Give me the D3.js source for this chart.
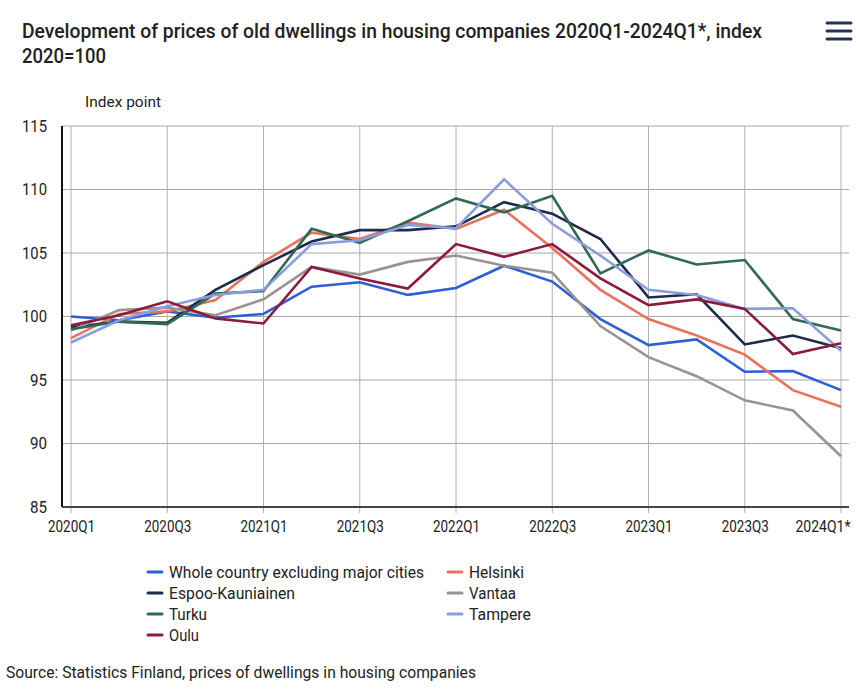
<!DOCTYPE html>
<html><head><meta charset="utf-8">
<script src="https://cdn.jsdelivr.net/npm/d3@7"></script>
<style>
body{margin:0;background:#fff;}
text{font-family:"Roboto","Noto Sans",sans-serif;fill:#222;}
</style></head>
<body><svg id="c" width="856" height="691"></svg>
<script>
const quarters = ["2020Q1","2020Q2","2020Q3","2020Q4","2021Q1","2021Q2","2021Q3","2021Q4","2022Q1","2022Q2","2022Q3","2022Q4","2023Q1","2023Q2","2023Q3","2023Q4","2024Q1*"];
const tickLabels = ["2020Q1","2020Q3","2021Q1","2021Q3","2022Q1","2022Q3","2023Q1","2023Q3","2024Q1*"];
const yTicks = [85,90,95,100,105,110,115];
const seriesNames = ["Whole country excluding major cities","Helsinki","Espoo-Kauniainen","Vantaa","Turku","Tampere","Oulu"];
const seriesColors = ["#2d5fd5","#e8735a","#1e2b4c","#9c9290","#2f6a56","#8a9edf","#8b1b3d"];
const wholeCountry = [100.0,99.7,100.4,99.9,100.2,102.35,102.7,101.7,102.25,104.0,102.75,99.8,97.75,98.2,95.65,95.7,94.2];
const helsinki     = [98.3,100.2,100.4,101.3,104.3,106.6,106.1,107.4,106.9,108.4,105.4,102.1,99.8,98.5,97.0,94.2,92.9];
const espoo        = [99.15,99.6,99.5,102.1,104.05,105.9,106.8,106.8,107.1,109.0,108.1,106.1,101.5,101.75,97.8,98.5,97.5];
const vantaa       = [98.9,100.5,100.7,100.1,101.35,103.9,103.3,104.3,104.8,104.0,103.45,99.25,96.8,95.3,93.4,92.6,89.0];
const turku        = [99.0,99.6,99.4,101.8,102.0,106.9,105.8,107.5,109.3,108.2,109.5,103.4,105.2,104.1,104.45,99.8,98.9];
const tampere      = [97.95,99.7,100.8,101.7,102.1,105.7,106.0,107.2,106.95,110.8,107.3,104.8,102.1,101.7,100.6,100.65,97.3];
const oulu         = [99.3,100.1,101.2,99.85,99.45,103.9,103.0,102.2,105.7,104.7,105.7,103.0,100.9,101.35,100.6,97.05,97.9];
const seriesValues = [wholeCountry,helsinki,espoo,vantaa,turku,tampere,oulu];
const legendWidths = [255,55,126,47,38,62,30];

const svg = d3.select("#c");
const x = d3.scalePoint().domain(quarters).range([71,841]);
const y = d3.scaleLinear().domain([85,115]).range([507,126]);
const left = 62, right = 849;

function txt(xp, yp, s, size, w, anchor){
  const t = svg.append("text").attr("x",xp).attr("y",yp).attr("font-size",size).text(s);
  if (anchor) t.attr("text-anchor",anchor);
  if (w) t.attr("textLength",w).attr("lengthAdjust","spacingAndGlyphs");
  return t;
}

// title
txt(22,38,"Development of prices of old dwellings in housing companies 2020Q1-2024Q1*, index",21,740).attr("font-weight",500);
txt(22,63,"2020=100",21,84).attr("font-weight",500);
// hamburger
[23,31,39].forEach(v=>svg.append("line").attr("x1",827).attr("x2",851).attr("y1",v).attr("y2",v).attr("stroke","#253358").attr("stroke-width",3).attr("stroke-linecap","round"));

txt(85,107,"Index point",15,76);

// grid
const g = svg.append("g");
g.selectAll(".hg").data(yTicks).join("line").attr("x1",left).attr("x2",right)
  .attr("y1",d=>y(d)).attr("y2",d=>y(d)).attr("stroke","#a8a8a8").attr("stroke-width",1);
g.selectAll(".vg").data(tickLabels).join("line").attr("x1",d=>x(d)).attr("x2",d=>x(d))
  .attr("y1",126).attr("y2",513).attr("stroke","#b0b0b0").attr("stroke-width",1);

// axes
const yAxis = d3.axisLeft(y).tickValues(yTicks).tickSize(0).tickPadding(15);
const ya = svg.append("g").attr("transform",`translate(${left},0)`).call(yAxis);
ya.select(".domain").remove();
ya.selectAll("text").attr("font-size",17).attr("font-family",null).style("fill","#222")
  .attr("textLength",d=>d>=100?25:17).attr("lengthAdjust","spacingAndGlyphs");
svg.append("line").attr("x1",left).attr("x2",left).attr("y1",126).attr("y2",507).attr("stroke","#111").attr("stroke-width",2);

const xAxis = d3.axisBottom(x).tickValues(tickLabels).tickSize(0).tickPadding(13);
const xa = svg.append("g").attr("transform",`translate(0,507)`).call(xAxis);
xa.select(".domain").remove();
xa.selectAll("text").attr("font-size",17).attr("font-family",null).style("fill","#222")
  .attr("textLength",d=>d.endsWith("*")?55:47).attr("lengthAdjust","spacingAndGlyphs")
  .attr("text-anchor",d=>d.endsWith("*")?"end":"middle")
  .attr("x",d=>d.endsWith("*")?9:0);
svg.append("line").attr("x1",left).attr("x2",right).attr("y1",507).attr("y2",507).attr("stroke","#444").attr("stroke-width",2);

// lines
const line = d3.line().x((d,i)=>x(quarters[i])).y(d=>y(d));
svg.append("g").selectAll("path").data(seriesValues).join("path")
  .attr("d",line).attr("fill","none").attr("stroke",(d,i)=>seriesColors[i])
  .attr("stroke-width",2.6).attr("stroke-linejoin","miter");

// legend
seriesNames.forEach((n,i)=>{
  const col = i===6?0:i%2, row = Math.floor(i/2);
  const lx = col===0?148:448, ly = 572+row*21;
  svg.append("line").attr("x1",lx).attr("x2",lx+14).attr("y1",ly).attr("y2",ly).attr("stroke",seriesColors[i]).attr("stroke-width",3).attr("stroke-linecap","round");
  txt(lx+21,ly+6,n,17,legendWidths[i]);
});

txt(6,678,"Source: Statistics Finland, prices of dwellings in housing companies",17,470);
</script></body></html>
